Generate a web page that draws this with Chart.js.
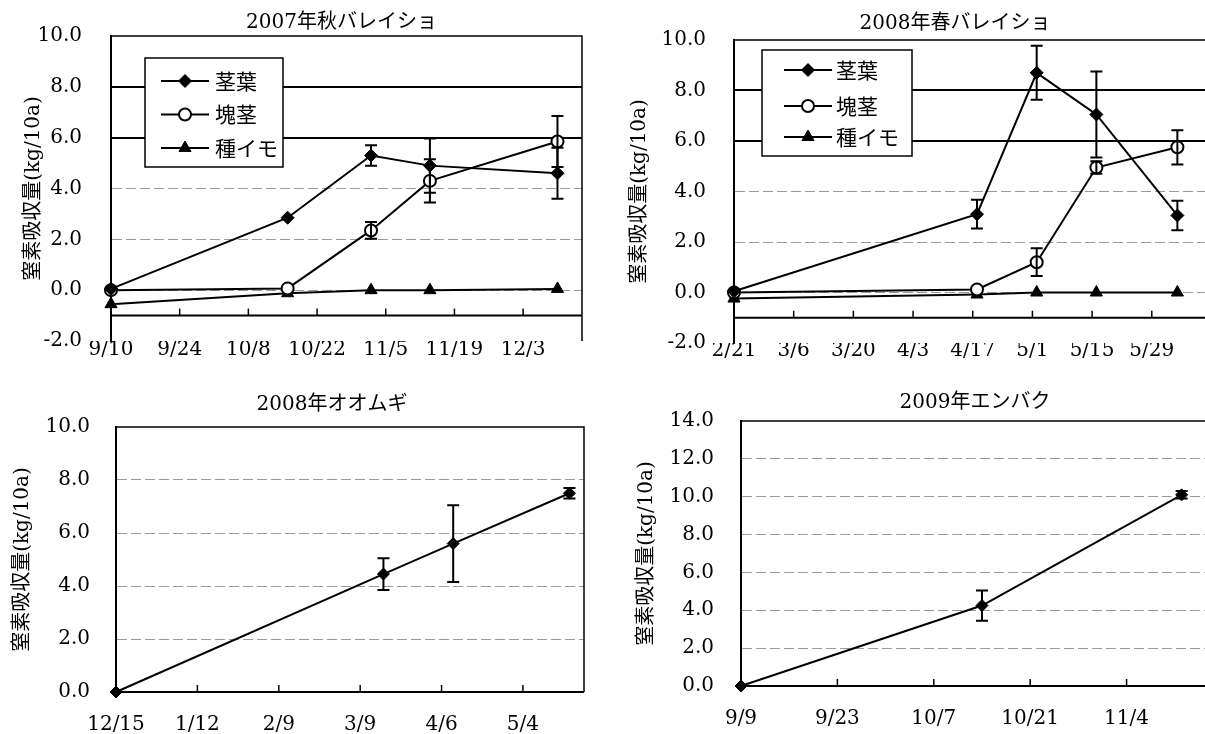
<!DOCTYPE html>
<html lang="ja">
<head>
<meta charset="utf-8">
<title>窒素吸収量の推移</title>
<script src="https://cdn.jsdelivr.net/npm/chart.js@4.4.1/dist/chart.umd.min.js"></script>
<style>
  html, body { margin: 0; padding: 0; background: #fff; overflow: hidden; }
  #fig { position: relative; width: 1205px; height: 734px; overflow: hidden; }
  #fig canvas { position: absolute; }
</style>
</head>
<body>
<div id="fig">
  <canvas id="autumn"></canvas>
  <canvas id="spring"></canvas>
  <canvas id="barley"></canvas>
  <canvas id="oats"></canvas>
</div>
<script>
// values (kg/10a)
const seriesNames = ['茎葉', '塊茎', '種イモ'];
const yTitle = '窒素吸収量(kg/10a)';

// 2007年秋バレイショ
const autumnDates = ['9/10', '10/16', '11/2', '11/14', '12/10'];
const autumnLeaf = [0.05, 2.85, 5.3, 4.9, 4.6];
const autumnLeafErr = [0, 0, 0.4, 1.07, 1.0];
const autumnTuber = [0.0, 0.07, 2.35, 4.3, 5.85];
const autumnTuberErr = [0, 0, 0.33, 0.85, 1.0];
const autumnSeed = [-0.55, -0.12, 0.0, 0.0, 0.05];
const autumnTicks = ['9/10', '9/24', '10/8', '10/22', '11/5', '11/19', '12/3'];

// 2008年春バレイショ
const springDates = ['2/21', '4/18', '5/2', '5/16', '6/4'];
const springLeaf = [0.05, 3.1, 8.7, 7.05, 3.05];
const springLeafErr = [0, 0.57, 1.07, 1.7, 0.58];
const springTuber = [0.0, 0.12, 1.2, 4.95, 5.75];
const springTuberErr = [0, 0, 0.55, 0.25, 0.68];
const springSeed = [-0.24, -0.08, 0.0, 0.0, 0.0];
const springTicks = ['2/21', '3/6', '3/20', '4/3', '4/17', '5/1', '5/15', '5/29'];

// 2008年オオムギ
const barleyDates = ['12/15', '3/17', '4/10', '5/20'];
const barleyN = [0.0, 4.45, 5.6, 7.5];
const barleyErr = [0, 0.6, 1.45, 0.2];
const barleyTicks = ['12/15', '1/12', '2/9', '3/9', '4/6', '5/4'];

// 2009年エンバク
const oatsDates = ['9/9', '10/14', '11/12'];
const oatsN = [0.0, 4.25, 10.1];
const oatsErr = [0, 0.8, 0.2];
const oatsTicks = ['9/9', '9/23', '10/7', '10/21', '11/4'];

Chart.defaults.font.family = "'DejaVu Serif', 'Noto Sans CJK JP', serif";
Chart.defaults.font.size = 20;
Chart.defaults.color = '#000';

const FAINT = '#9a9a9a';

// m/d -> day number; months before the start month belong to the next year
function toDay(md, y0, m0) {
  const [m, d] = md.split('/').map(Number);
  const y = m < m0 ? y0 + 1 : y0;
  return Date.UTC(y, m - 1, d) / 86400000;
}

const leafStyle = { pointStyle: 'rectRot', pointRadius: 6.5, pointBackgroundColor: '#000', pointBorderWidth: 1 };
const tuberStyle = { pointStyle: 'circle', pointRadius: 6, pointBackgroundColor: '#fff', pointBorderWidth: 2 };
const seedStyle = { pointStyle: 'triangle', pointRadius: 7, pointBackgroundColor: '#000', pointBorderWidth: 1 };

// frame, inward x ticks, error bars and the boxed legend
const decor = {
  id: 'decor',
  beforeDatasetsDraw(chart, args, opts) {
    const { ctx, chartArea: a, scales: { x, y } } = chart;
    ctx.save();
    ctx.strokeStyle = '#000';
    ctx.lineWidth = 1.5;
    ctx.beginPath();
    ctx.moveTo(a.left, a.top);
    ctx.lineTo(a.right, a.top);
    ctx.lineTo(a.right, a.bottom);
    ctx.stroke();
    const ay = y.getPixelForValue(opts.axisAt);
    ctx.lineWidth = 2;
    ctx.beginPath();
    ctx.moveTo(a.left, ay);
    ctx.lineTo(a.right, ay);
    ctx.stroke();
    ctx.lineWidth = 1.5;
    x.ticks.forEach(t => {
      const px = x.getPixelForValue(t.value);
      ctx.beginPath();
      ctx.moveTo(px, ay);
      ctx.lineTo(px, ay - 7);
      ctx.stroke();
    });
    ctx.restore();
  },
  afterDatasetsDraw(chart) {
    const { ctx, scales: { x, y } } = chart;
    ctx.save();
    ctx.strokeStyle = '#000';
    ctx.lineWidth = 2;
    chart.data.datasets.forEach(ds => {
      (ds.errors || []).forEach((e, i) => {
        if (!e) return;
        const p = ds.data[i];
        const px = x.getPixelForValue(p.x);
        const hi = y.getPixelForValue(p.y + e);
        const lo = y.getPixelForValue(p.y - e);
        ctx.beginPath();
        ctx.moveTo(px, hi); ctx.lineTo(px, lo);
        ctx.moveTo(px - 6, hi); ctx.lineTo(px + 6, hi);
        ctx.moveTo(px - 6, lo); ctx.lineTo(px + 6, lo);
        ctx.stroke();
      });
    });
    ctx.restore();
  },
  afterDraw(chart, args, opts) {
    const lg = opts.legend;
    if (!lg) return;
    const { ctx, chartArea: a } = chart;
    const bx = a.left + lg.dx, by = a.top + lg.dy;
    ctx.save();
    ctx.fillStyle = '#fff';
    ctx.fillRect(bx, by, lg.w, lg.h);
    ctx.strokeStyle = '#000';
    ctx.lineWidth = 1.5;
    ctx.strokeRect(bx, by, lg.w, lg.h);
    ctx.font = "21px 'Noto Sans CJK JP'";
    ctx.textBaseline = 'middle';
    chart.data.datasets.forEach((ds, i) => {
      const ry = by + lg.rows[i];
      ctx.strokeStyle = '#000';
      ctx.lineWidth = 2;
      ctx.beginPath();
      ctx.moveTo(bx + lg.line[0], ry);
      ctx.lineTo(bx + lg.line[1], ry);
      ctx.stroke();
      ctx.fillStyle = ds.pointBackgroundColor;
      ctx.lineWidth = ds.pointBorderWidth;
      Chart.helpers.drawPoint(ctx, {
        pointStyle: ds.pointStyle, radius: ds.pointRadius, rotation: 0, borderWidth: ds.pointBorderWidth
      }, bx + (lg.line[0] + lg.line[1]) / 2, ry);
      ctx.fillStyle = '#000';
      ctx.fillText(ds.label, bx + lg.textX, ry);
    });
    ctx.restore();
  }
};

function points(dates, values, p) {
  return dates.map((d, i) => ({ x: toDay(d, p.year, p.startMonth), y: values[i] }));
}

function panel(id, p) {
  const cv = document.getElementById(id);
  cv.width = p.box.w;
  cv.height = p.box.h;
  cv.style.left = p.box.left + 'px';
  cv.style.top = p.box.top + 'px';
  const tickDays = p.xTicks.map(t => toDay(t, p.year, p.startMonth));
  const isStrong = v => p.strong.includes(v);
  const isEdge = v => v === p.yMin || v === p.yMax;

  new Chart(cv, {
    type: 'line',
    data: {
      datasets: p.series.map(s => Object.assign({
        label: s.name,
        data: points(s.dates, s.values, p),
        errors: s.err,
        borderColor: '#000',
        borderWidth: 2,
        pointBorderColor: '#000',
        tension: 0,
        clip: false
      }, s.style))
    },
    options: {
      responsive: false,
      animation: false,
      layout: { padding: 0 },
      plugins: {
        legend: { display: false },
        tooltip: { enabled: false },
        title: {
          display: true,
          text: p.title,
          color: '#000',
          font: { size: 20, weight: 'normal' },
          padding: p.titlePad
        },
        decor: { axisAt: p.axisAt, legend: p.legend }
      },
      scales: {
        x: {
          type: 'linear',
          min: toDay(p.xRange[0], p.year, p.startMonth),
          max: toDay(p.xRange[1], p.year, p.startMonth),
          afterBuildTicks: s => { s.ticks = tickDays.map(v => ({ value: v })); },
          afterFit: s => { s.height = p.xHeight; },
          grid: { display: false, drawTicks: false },
          border: { display: false },
          ticks: {
            autoSkip: false,
            maxRotation: 0,
            padding: p.xPad,
            callback: (v, i) => p.xTicks[i]
          }
        },
        y: {
          min: p.yMin,
          max: p.yMax,
          afterFit: s => { s.width = p.yWidth; },
          grid: {
            drawTicks: false,
            color: c => isEdge(c.tick.value) ? 'rgba(0,0,0,0)' : (isStrong(c.tick.value) ? '#000' : FAINT),
            lineWidth: c => isStrong(c.tick.value) ? 2 : 1
          },
          border: {
            color: '#000',
            width: 2,
            dash: c => (c.tick && !isStrong(c.tick.value)) ? [10, 4] : []
          },
          ticks: {
            stepSize: 2,
            padding: p.yPad,
            callback: v => v.toFixed(1)
          },
          title: {
            display: true,
            text: yTitle,
            font: { size: 20 },
            padding: { top: p.yTitlePad, bottom: 0 }
          }
        },
        // empty strip right of the plot, so the title centres on the whole panel
        spacer: {
          axis: 'y',
          position: 'right',
          afterFit: s => { s.width = p.padRight; },
          grid: { display: false, drawTicks: false },
          border: { display: false },
          ticks: { display: false }
        }
      }
    },
    plugins: [decor]
  });
}

panel('autumn', {
  title: '2007年秋バレイショ', year: 2007, startMonth: 9,
  xRange: ['9/10', '12/15'], xTicks: autumnTicks,
  yMin: -2, yMax: 10, axisAt: -1, strong: [8, 6],
  series: [
    { name: seriesNames[0], dates: autumnDates, values: autumnLeaf, err: autumnLeafErr, style: leafStyle },
    { name: seriesNames[1], dates: autumnDates, values: autumnTuber, err: autumnTuberErr, style: tuberStyle },
    { name: seriesNames[2], dates: autumnDates, values: autumnSeed, err: null, style: seedStyle }
  ],
  box: { left: 0, top: -5, w: 683, h: 387 },
  padRight: 101, yWidth: 111, xHeight: 41,
  titlePad: { top: 16, bottom: 1 }, xPad: -3.5, yPad: 29, yTitlePad: 22,
  legend: { dx: 34, dy: 22, w: 138, h: 109, rows: [23, 56.5, 90], line: [16, 64], textX: 70 }
});

panel('spring', {
  title: '2008年春バレイショ', year: 2008, startMonth: 2,
  xRange: ['2/21', '7/3'], xTicks: springTicks,
  yMin: -2, yMax: 10, axisAt: -1, strong: [8, 6],
  series: [
    { name: seriesNames[0], dates: springDates, values: springLeaf, err: springLeafErr, style: leafStyle },
    { name: seriesNames[1], dates: springDates, values: springTuber, err: springTuberErr, style: tuberStyle },
    { name: seriesNames[2], dates: springDates, values: springSeed, err: null, style: seedStyle }
  ],
  box: { left: 600, top: 0, w: 710, h: 384 },
  padRight: 9, yWidth: 134, xHeight: 41,
  titlePad: { top: 11.5, bottom: 4.5 }, xPad: -4, yPad: 28, yTitlePad: 28,
  legend: { dx: 28, dy: 10, w: 150, h: 106, rows: [20, 56, 87], line: [22, 70], textX: 74 }
});

panel('barley', {
  title: '2008年オオムギ', year: 2008, startMonth: 12,
  xRange: ['12/15', '5/25'], xTicks: barleyTicks,
  yMin: 0, yMax: 10, axisAt: 0, strong: [],
  series: [
    { name: 'オオムギ', dates: barleyDates, values: barleyN, err: barleyErr, style: Object.assign({}, leafStyle, { pointRadius: 6 }) }
  ],
  box: { left: 0, top: 360, w: 664, h: 374 },
  padRight: 80, yWidth: 116, xHeight: 42,
  titlePad: { top: 33, bottom: 10 }, xPad: 21, yPad: 26, yTitlePad: 11,
  legend: null
});

panel('oats', {
  title: '2009年エンバク', year: 2009, startMonth: 9,
  xRange: ['9/9', '12/5'], xTicks: oatsTicks,
  yMin: 0, yMax: 14, axisAt: 0, strong: [],
  series: [
    { name: 'エンバク', dates: oatsDates, values: oatsN, err: oatsErr, style: Object.assign({}, leafStyle, { pointRadius: 6 }) }
  ],
  box: { left: 600, top: 360, w: 750, h: 374 },
  padRight: 10, yWidth: 141, xHeight: 48,
  titlePad: { top: 31, bottom: 6 }, xPad: 21, yPad: 27, yTitlePad: 35,
  legend: null
});
</script>
</body>
</html>
